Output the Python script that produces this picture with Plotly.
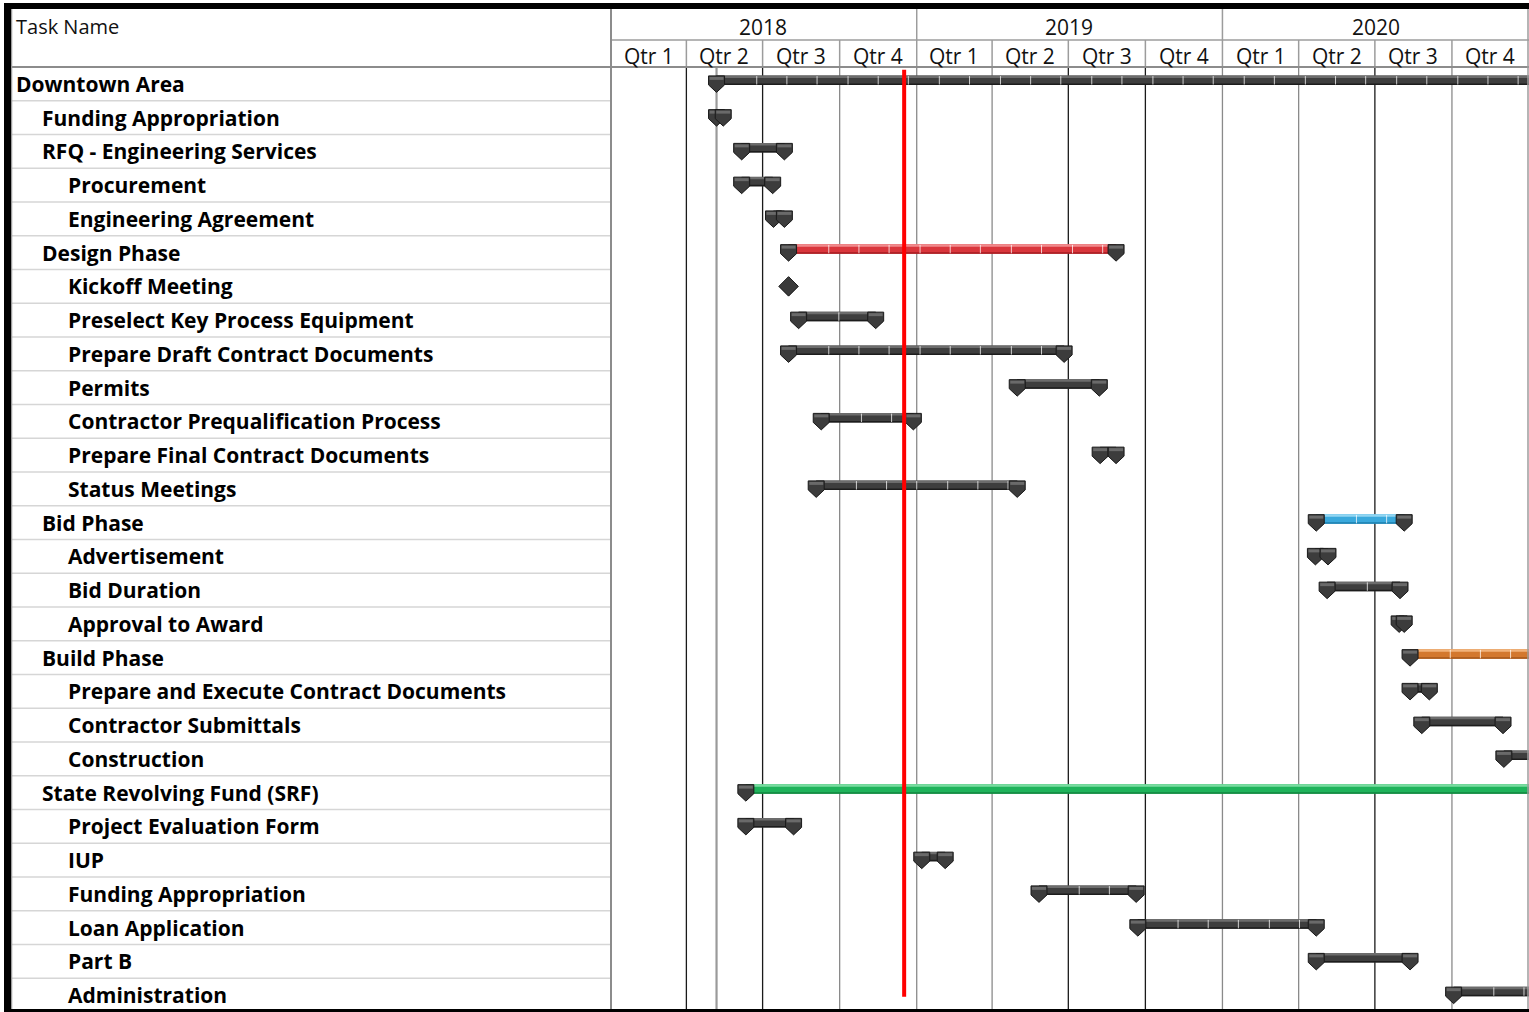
import plotly.graph_objects as go
import pandas as pd

W, H = 1529, 1012

# ---------------- data ----------------
task_names = [
    "Downtown Area", "Funding Appropriation", "RFQ - Engineering Services",
    "Procurement", "Engineering Agreement", "Design Phase", "Kickoff Meeting",
    "Preselect Key Process Equipment", "Prepare Draft Contract Documents",
    "Permits", "Contractor Prequalification Process",
    "Prepare Final Contract Documents", "Status Meetings", "Bid Phase",
    "Advertisement", "Bid Duration", "Approval to Award", "Build Phase",
    "Prepare and Execute Contract Documents", "Contractor Submittals",
    "Construction", "State Revolving Fund (SRF)", "Project Evaluation Form",
    "IUP", "Funding Appropriation", "Loan Application", "Part B",
    "Administration",
]
task_levels = [0, 1, 1, 2, 2, 1, 2, 2, 2, 2, 2, 2, 2, 1, 2, 2, 2, 1, 2, 2, 2,
               1, 2, 2, 2, 2, 2, 2]
task_starts = [
    "2018-05-07", "2018-05-07", "2018-06-06", "2018-06-06", "2018-07-14",
    "2018-08-01", "2018-08-01", "2018-08-13", "2018-08-01", "2019-05-01",
    "2018-09-09", "2019-08-08", "2018-09-03", "2020-04-22", "2020-04-21",
    "2020-05-05", "2020-07-30", "2020-08-12", "2020-08-12", "2020-08-26",
    "2020-12-02", "2018-06-11", "2018-06-11", "2019-01-07", "2019-05-27",
    "2019-09-22", "2020-04-22", "2020-10-03",
]
task_ends = [
    "2021-06-30", "2018-05-15", "2018-07-27", "2018-07-13", "2018-07-27",
    "2019-08-27", "2018-08-01", "2018-11-13", "2019-06-26", "2019-08-07",
    "2018-12-28", "2019-08-27", "2019-05-01", "2020-08-05", "2020-05-06",
    "2020-07-31", "2020-08-05", "2021-06-30", "2020-09-04", "2020-12-01",
    "2021-04-30", "2021-06-30", "2018-08-07", "2019-02-04", "2019-09-20",
    "2020-04-22", "2020-08-12", "2021-06-30",
]
years = [2018, 2019, 2020]
quarter_labels = ["Qtr 1", "Qtr 2", "Qtr 3", "Qtr 4"]
status_date = "2018-12-17"
project_start = "2018-05-07"

# ---------------- style ----------------
FONT = "Open Sans"
DARK = ("#3e3e3e", "#6c6c6c", "#1c1c1c")
BAR_COLORS = {
    "Design Phase": ("#d9363c", "#f08a8c", "#a51d22"),
    "Bid Phase": ("#3aa9dc", "#92d6f2", "#1d7fae"),
    "Build Phase": ("#d3782e", "#f1b27a", "#a5561a"),
    "State Revolving Fund (SRF)": ("#1fb35b", "#79dca0", "#13853f"),
}
NO_TICKS = {"State Revolving Fund (SRF)", "Permits", "Contractor Submittals",
            "Part B"}
DARK_QUARTERS = {"2018-04-01", "2018-07-01", "2019-07-01", "2019-10-01",
                 "2020-07-01"}
INDENT = [16, 42, 68]
CAP = "M -8 8 L 8 8 L 8 -1 L 0 -8.5 L -8 -1 Z"
CAP_HI = "M -7 7 L 7 7 L 7 4 L -7 4 Z"


def px(x):
    return x / W


def py(y):
    return 1 - y / H


n = len(task_names)
shapes = []
annotations = []

# quarter starts
q_starts = []
for yr in years:
    for m in (1, 4, 7, 10):
        q_starts.append(pd.Timestamp(year=yr, month=m, day=1))
q_end_all = pd.Timestamp(year=years[-1] + 1, month=1, day=1)

# chart body quarter lines
for q in q_starts[1:]:
    key = q.strftime("%Y-%m-%d")
    col = "#1a1a1a" if key in DARK_QUARTERS else "#8a8a8a"
    shapes.append(dict(type="line", xref="x", yref="paper", x0=key, x1=key,
                       y0=py(1009), y1=py(67), line=dict(color=col, width=1.3)))

# project start line
shapes.append(dict(type="line", xref="x", yref="paper", x0=project_start,
                   x1=project_start, y0=py(1009), y1=py(67),
                   line=dict(color="#9a9a9a", width=2.2)))

# table row separators
for i in range(n):
    shapes.append(dict(type="line", xref="paper", yref="y", x0=px(12),
                       x1=px(611), y0=i + 0.5, y1=i + 0.5,
                       line=dict(color="#d6d6d6", width=1.5)))

# bars
traces = []
for i in range(n):
    s = pd.Timestamp(task_starts[i])
    e = pd.Timestamp(task_ends[i])
    name = task_names[i]
    base, hi, lo = BAR_COLORS.get(name, DARK)
    if s == e:
        traces.append(go.Scatter(
            x=[task_starts[i]], y=[i], mode="markers",
            marker=dict(symbol="diamond", size=15, color="#3a3a3a",
                        line=dict(color="#151515", width=1)),
            hoverinfo="skip", showlegend=False))
        continue
    # body
    shapes.append(dict(type="rect", xref="x", yref="y", x0=task_starts[i],
                       x1=task_ends[i], y0=i - 0.245, y1=i + 0.035,
                       fillcolor=base, line=dict(width=0)))
    shapes.append(dict(type="rect", xref="x", yref="y", x0=task_starts[i],
                       x1=task_ends[i], y0=i - 0.245, y1=i - 0.175,
                       fillcolor=hi, line=dict(width=0)))
    shapes.append(dict(type="rect", xref="x", yref="y", x0=task_starts[i],
                       x1=task_ends[i], y0=i - 0.01, y1=i + 0.035,
                       fillcolor=lo, line=dict(width=0)))
    # ticks
    if (e - s).days > 60 and name not in NO_TICKS:
        t = s + pd.Timedelta(days=48)
        while t < e - pd.Timedelta(days=10):
            ts = t.strftime("%Y-%m-%d")
            shapes.append(dict(type="line", xref="x", yref="y", x0=ts, x1=ts,
                               y0=i - 0.23, y1=i + 0.02,
                               line=dict(color="rgba(255,255,255,0.75)",
                                         width=1)))
            t += pd.Timedelta(days=36.4)
    # caps
    for d in (task_starts[i], task_ends[i]):
        shapes.append(dict(type="path", xref="x", yref="y", xsizemode="pixel",
                           ysizemode="pixel", xanchor=d, yanchor=i, path=CAP,
                           fillcolor="#3c3c3c",
                           line=dict(color="#1a1a1a", width=1)))
        shapes.append(dict(type="path", xref="x", yref="y", xsizemode="pixel",
                           ysizemode="pixel", xanchor=d, yanchor=i,
                           path=CAP_HI, fillcolor="#6a6a6a",
                           line=dict(width=0)))

# status line
shapes.append(dict(type="line", xref="x", yref="y", x0=status_date,
                   x1=status_date, y0=-0.42, y1=27.05,
                   line=dict(color="#ff0000", width=4)))

# header lines
shapes.append(dict(type="line", xref="paper", yref="paper", x0=px(611),
                   x1=px(1529), y0=py(40), y1=py(40),
                   line=dict(color="#9c9c9c", width=1.5)))
for q in q_starts[1:]:
    key = q.strftime("%Y-%m-%d")
    top = 9 if q.month == 1 else 40
    shapes.append(dict(type="line", xref="x", yref="paper", x0=key, x1=key,
                       y0=py(67), y1=py(top),
                       line=dict(color="#9c9c9c", width=1.5)))
shapes.append(dict(type="line", xref="paper", yref="paper", x0=px(12),
                   x1=px(1529), y0=py(67), y1=py(67),
                   line=dict(color="#8c8c8c", width=2)))
shapes.append(dict(type="line", xref="paper", yref="paper", x0=px(611),
                   x1=px(611), y0=py(1009), y1=py(9),
                   line=dict(color="#8c8c8c", width=2)))
shapes.append(dict(type="line", xref="paper", yref="paper", x0=px(1528),
                   x1=px(1528), y0=py(1009), y1=py(9),
                   line=dict(color="#9c9c9c", width=1.5)))
shapes.append(dict(type="line", xref="paper", yref="paper", x0=px(11.5),
                   x1=px(11.5), y0=py(1009), y1=py(9),
                   line=dict(color="#9c9c9c", width=1.5)))
# outer black frame
shapes.append(dict(type="rect", xref="paper", yref="paper", x0=px(4),
                   x1=px(1529), y0=py(9), y1=py(3), fillcolor="#000000",
                   line=dict(width=0)))
shapes.append(dict(type="rect", xref="paper", yref="paper", x0=px(4),
                   x1=px(11), y0=py(1012), y1=py(3), fillcolor="#000000",
                   line=dict(width=0)))
shapes.append(dict(type="rect", xref="paper", yref="paper", x0=px(4),
                   x1=px(1529), y0=py(1012), y1=py(1009), fillcolor="#000000",
                   line=dict(width=0)))

# header text
annotations.append(dict(text="Task Name", xref="paper", yref="paper",
                        x=px(14), y=py(27), xanchor="left", yanchor="middle",
                        showarrow=False,
                        font=dict(family=FONT, size=20, color="#111")))
for yr in years:
    mid = pd.Timestamp(year=yr, month=7, day=2)
    annotations.append(dict(text=str(yr), xref="x", yref="paper",
                            x=mid.strftime("%Y-%m-%d"), y=py(27),
                            xanchor="center", yanchor="middle",
                            showarrow=False,
                            font=dict(family=FONT, size=21, color="#111")))
all_bounds = q_starts + [q_end_all]
for k, q in enumerate(q_starts):
    mid = q + (all_bounds[k + 1] - q) / 2
    annotations.append(dict(text=quarter_labels[q.month // 3],
                            xref="x", yref="paper",
                            x=mid.strftime("%Y-%m-%d %H:%M"), y=py(56),
                            xanchor="center", yanchor="middle",
                            showarrow=False,
                            font=dict(family=FONT, size=21, color="#111")))

# task names
for i in range(n):
    annotations.append(dict(text="<b>%s</b>" % task_names[i], xref="paper",
                            yref="y", x=px(INDENT[task_levels[i]] - 2), y=i,
                            xanchor="left", yanchor="middle", showarrow=False,
                            font=dict(family=FONT, size=21, color="#000")))

fig = go.Figure(traces)
fig.update_layout(
    width=W, height=H, margin=dict(l=0, r=0, t=0, b=0),
    paper_bgcolor="white", plot_bgcolor="white", showlegend=False,
    xaxis=dict(type="date", range=["2018-01-01", "2021-01-01"],
               domain=[611 / W, 1], showgrid=False, zeroline=False,
               showticklabels=False, fixedrange=True),
    yaxis=dict(range=[n - 0.5, -0.5], domain=[0, 1 - 67 / H],
               showgrid=False, zeroline=False, showticklabels=False,
               fixedrange=True),
    shapes=shapes, annotations=annotations,
)
fig.write_html("out.html", config={"displayModeBar": False},
               post_script="document.body.style.margin='0px';"
                           "document.body.style.overflow='hidden';")
